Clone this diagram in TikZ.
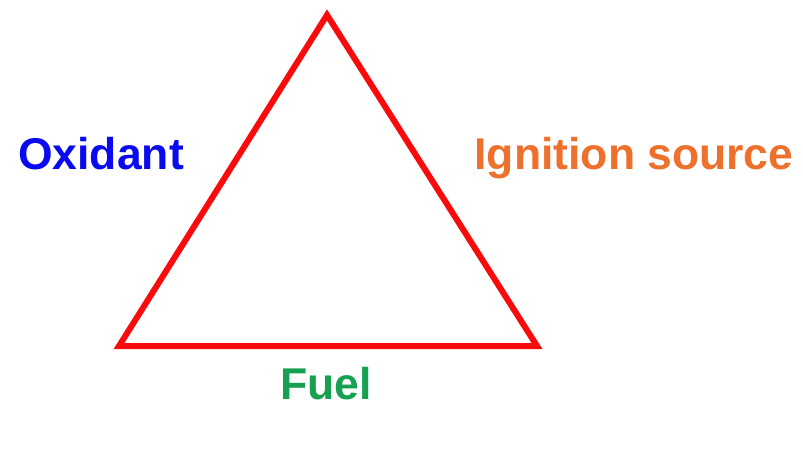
\documentclass[tikz,border=0pt]{standalone}
\usepackage{fontspec}
\setmainfont{Liberation Sans}
\definecolor{oxblue}{RGB}{10,10,240}
\definecolor{ignorange}{RGB}{238,112,45}
\definecolor{fuelgreen}{RGB}{22,160,80}
\definecolor{trired}{RGB}{250,10,10}
\begin{document}
\begin{tikzpicture}[x=1pt,y=-1pt,
  lbl/.style={font=\fontsize{44.5}{50}\selectfont\bfseries, inner sep=0pt, anchor=base},
  tri/.style={draw=trired, line width=6pt, line join=miter}]
\useasboundingbox (0,0) rectangle (803,454);
\coordinate (top) at (327,15);
\coordinate (bl) at (119,346);
\coordinate (br) at (537,346);
\draw[tri] (top) -- (bl) -- (br) -- cycle;
\node[lbl, text=oxblue] (ox) at (101,170) {Oxidant};
\node[lbl, text=ignorange] (ign) at (634,170) {Ignition source};
\node[lbl, text=fuelgreen] (fuel) at (326,399) {Fuel};
\end{tikzpicture}
\end{document}
